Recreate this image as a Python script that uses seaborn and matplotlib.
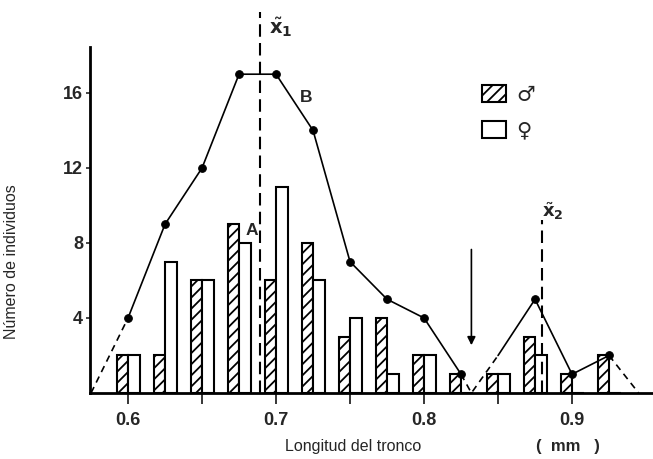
import matplotlib
matplotlib.use("Agg")
import matplotlib.pyplot as plt
from matplotlib.patches import Patch
import seaborn as sns
import pandas as pd

# ---- data ----
clases = [0.6, 0.625, 0.65, 0.675, 0.7, 0.725, 0.75, 0.775, 0.8, 0.825, 0.85, 0.875, 0.9, 0.925]
machos = [2, 2, 6, 9, 6, 8, 3, 4, 2, 1, 1, 3, 1, 2]
hembras = [2, 7, 6, 8, 11, 6, 4, 1, 2, 0, 1, 2, 0, 0]

# curve B (total), solid parts
b1_x = [0.6, 0.625, 0.65, 0.675, 0.7, 0.725, 0.75, 0.775, 0.8, 0.825]
b1_y = [4, 9, 12, 17, 17, 14, 7, 5, 4, 1]
b2_x = [0.85, 0.875, 0.9, 0.925]
b2_y = [2, 5, 1, 2]
# dashed extrapolations
d1_x, d1_y = [0.575, 0.6], [0, 4]
d2_x, d2_y = [0.825, 0.832, 0.85], [1, 0, 2]
d3_x, d3_y = [0.925, 0.945], [2, 0]

mediana1 = 0.689
mediana2 = 0.880
corte = 0.832

xticks = [0.6, 0.65, 0.7, 0.75, 0.8, 0.85, 0.9]
xticklabels = ["0.6", "", "0.7", "", "0.8", "", "0.9"]
yticks = [4, 8, 12, 16]

sns.set_style("white")
plt.rcParams["font.family"] = ["Liberation Sans", "DejaVu Sans"]
plt.rcParams["hatch.linewidth"] = 1.3

df = pd.DataFrame({
    "x": clases * 2,
    "n": machos + hembras,
    "sexo": ["♂"] * len(clases) + ["♀"] * len(clases),
})

fig = plt.figure(figsize=(6.53, 4.59), dpi=100)
ax = fig.add_axes([90 / 653, 1 - 393 / 459, 1 - 90 / 653, (393 - 47) / 459])

sns.barplot(data=df, x="x", y="n", hue="sexo", hue_order=["♂", "♀"],
            native_scale=True, width=0.62, palette=["white", "white"],
            saturation=1, edgecolor="black", linewidth=1.5, errorbar=None,
            legend=False, ax=ax)
for bar in ax.containers[0]:
    bar.set_hatch("///")

lw = 1.2
sns.lineplot(x=b1_x, y=b1_y, color="black", marker="o", markersize=5.5,
             markeredgecolor="black", linewidth=lw, sort=False, ax=ax)
sns.lineplot(x=b2_x[1:], y=b2_y[1:], color="black", marker="o", markersize=5.5,
             markeredgecolor="black", linewidth=lw, sort=False, ax=ax)
sns.lineplot(x=b2_x[:2], y=b2_y[:2], color="black", linewidth=lw, sort=False, ax=ax)
for dx, dy in [(d1_x, d1_y), (d2_x, d2_y), (d3_x, d3_y)]:
    sns.lineplot(x=dx, y=dy, color="black", linewidth=lw, sort=False, ax=ax,
                 linestyle=(0, (4, 3)))

# medians
ax.plot([mediana1, mediana1], [0, 20.3], color="black", lw=1.5,
        linestyle=(0, (6, 3)), clip_on=False)
ax.plot([mediana2, mediana2], [0, 9.2], color="black", lw=1.5,
        linestyle=(0, (6, 3)), clip_on=False)
ax.text(0.7034, 19.5, r"$\tilde{\mathbf{x}}_{\mathbf{1}}$", fontsize=14,
        ha="center", va="center", clip_on=False)
ax.text(0.8868, 9.7, r"$\tilde{\mathbf{x}}_{\mathbf{2}}$", fontsize=13,
        ha="center", va="center", clip_on=False)

# arrow
ax.annotate("", xy=(corte, 2.4), xytext=(corte, 7.8),
            arrowprops=dict(arrowstyle="-|>", color="black", lw=1.2,
                            mutation_scale=12))

ax.text(0.6838, 8.64, "A", fontsize=12.5, fontweight="bold", ha="center", va="center")
ax.text(0.7203, 15.75, "B", fontsize=12.5, fontweight="bold", ha="center", va="center")

ax.set_xlim(0.5743, 0.9547)
ax.set_ylim(0, 18.45)
ax.set_xticks(xticks)
ax.set_xticklabels(xticklabels, fontsize=13, fontweight="bold")
ax.set_yticks(yticks)
ax.set_yticklabels([str(v) for v in yticks], fontsize=13, fontweight="bold")
ax.tick_params(axis="x", direction="out", length=8, width=1.3, pad=6, bottom=True)
ax.tick_params(axis="y", direction="out", length=3, width=1.2, pad=2, left=True)
ax.set_xlabel("")
ax.set_ylabel("")
for s in ["top", "right"]:
    ax.spines[s].set_visible(False)
ax.spines["left"].set_linewidth(2)
ax.spines["bottom"].set_linewidth(2)
ax.spines["left"].set_color("black")
ax.spines["bottom"].set_color("black")

handles = [Patch(facecolor="white", edgecolor="black", hatch="///", linewidth=1.5),
           Patch(facecolor="white", edgecolor="black", linewidth=1.5)]
fig.legend(handles, ["♂", "♀"], loc="upper left",
           bbox_to_anchor=(463 / 653, 1 - 66 / 459), frameon=False,
           prop={"family": "DejaVu Sans", "size": 15},
           handlelength=1.15, handleheight=0.9, labelspacing=0.75,
           handletextpad=0.5)

fig.text(12 / 653, 1 - 262 / 459, "Número de individuos", rotation=90,
         ha="center", va="center", fontsize=11.5)
fig.text(353 / 653, 1 - 446 / 459, "Longitud del tronco", ha="center",
         va="center", fontsize=11.5)
fig.text(568 / 653, 1 - 446 / 459, "(  mm   )", ha="center", va="center",
         fontsize=12, fontweight="bold")

fig.savefig("out.png", dpi=100)
